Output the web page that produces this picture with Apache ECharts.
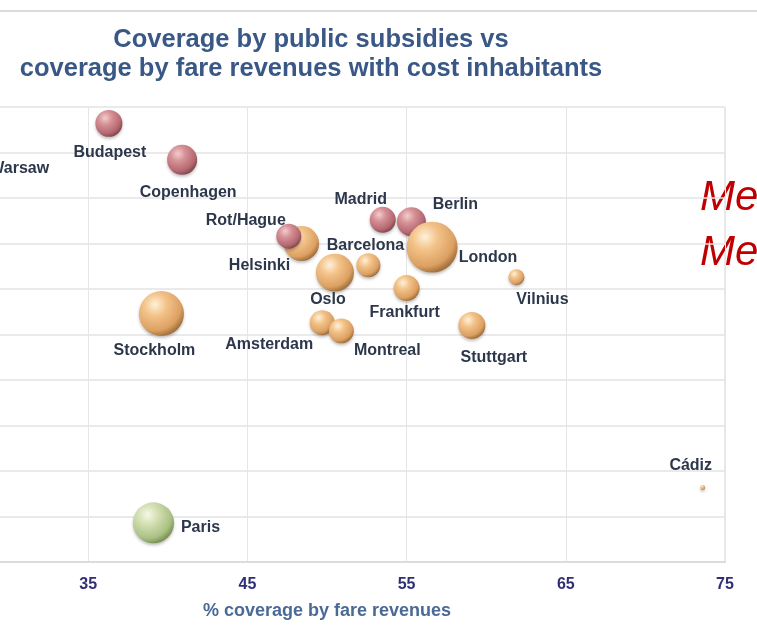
<!DOCTYPE html>
<html><head><meta charset="utf-8">
<script src="https://cdn.jsdelivr.net/npm/echarts@6/dist/echarts.min.js"></script>
<style>html,body{margin:0;padding:0;background:#fff}#c{width:757px;height:633px}</style>
</head><body><div id="c"></div><script>
// ---- data ----
const cities = ['Warsaw','Budapest','Copenhagen','Stockholm','Paris','Helsinki','Rot/Hague','Oslo','Amsterdam','Montreal','Barcelona','Madrid','Berlin','London','Frankfurt','Vilnius','Stuttgart','Cádiz'];
const fareCoverage    = [27.4, 36.3, 40.9, 39.6, 39.1, 48.4, 47.6, 50.5, 49.7, 50.9, 52.6, 53.5, 55.3, 56.6, 55.0, 61.9, 59.1, 73.6];
const subsidyCoverage = [53.2, 58.2, 54.2, 37.3, 14.3, 45.0, 45.8, 41.8, 36.3, 35.4, 42.6, 47.6, 47.4, 44.6, 40.1, 41.3, 36.0, 18.2];
const inhabitants     = [2.1, 2.1, 2.6, 5.85, 4.86, 3.54, 1.8, 4.17, 1.8, 1.8, 1.66, 1.95, 2.43, 7.5, 1.95, 0.74, 2.1, 0.07];
const groups          = ['A','A','A','B','C','B','A','B','B','B','B','A','A','B','B','B','B','B'];
const xTicks = [25, 35, 45, 55, 65, 75];
const titleLines = ['Coverage by public subsidies vs', 'coverage by fare revenues with cost inhabitants'];
const xAxisTitle = '% coverage by fare revenues';
const sideText = ['Me', 'Me'];

// ---- styles ----
const labelOffset = {
  'Warsaw':[52,0], 'Budapest':[1,29], 'Copenhagen':[6,33], 'Stockholm':[-7,37], 'Paris':[47,5],
  'Helsinki':[-42,22], 'Rot/Hague':[-43,-16], 'Oslo':[-7,27], 'Amsterdam':[-53,22], 'Montreal':[46,20],
  'Barcelona':[-3,-20], 'Madrid':[-22,-20], 'Berlin':[44,-17], 'London':[56,10], 'Frankfurt':[-2,25],
  'Vilnius':[26,22], 'Stuttgart':[22,32], 'Cádiz':[-12,-22]
};
function grad(stops){
  return new echarts.graphic.RadialGradient(0.36, 0.3, 0.72, stops.map((c,i)=>({offset:[0,0.35,0.8,1][i], color:c})));
}
const palette = {
  A: ['#f2cdcd','#d69197','#b56870','#864852'],
  B: ['#fff1d8','#f3c38a','#dca062','#a2703c'],
  C: ['#f5f9e6','#d3dfb2','#aac084','#7a9352']
};

const data = cities.map((c,i)=>({
  name: c,
  value: [fareCoverage[i], subsidyCoverage[i], inhabitants[i]],
  itemStyle: { color: grad(palette[groups[i]]) },
  label: { offset: labelOffset[c] }
}));

const chart = echarts.init(document.getElementById('c'), null, {renderer:'canvas'});
chart.setOption({
  animation: false,
  backgroundColor: '#ffffff',
  grid: { left: -71, right: 32, top: 107, bottom: 71, containLabel: false, outerBoundsMode: 'none' },
  xAxis: {
    type: 'value', min: xTicks[0], max: xTicks[xTicks.length-1], interval: 10,
    name: xAxisTitle, nameLocation: 'middle', nameGap: 40,
    nameTextStyle: { color: '#4a6a96', fontSize: 18, fontWeight: 'bold', fontFamily: 'Liberation Sans' },
    axisLine: { show: true, lineStyle: { color: '#dcdcdc', width: 2 } },
    axisTick: { show: false },
    axisLabel: { color: '#2f2f78', fontSize: 16, fontWeight: 'bold', fontFamily: 'Liberation Sans', margin: 15 },
    splitLine: { show: true, lineStyle: { color: '#e6e6e6', width: 1 } }
  },
  yAxis: {
    type: 'value', min: 10, max: 60, interval: 5,
    axisLine: { show: false }, axisTick: { show: false }, axisLabel: { show: false },
    splitLine: { show: true, lineStyle: { color: '#e3e3e3', width: 1.5 } }
  },
  graphic: [
    { type: 'line', shape: { x1: 0, y1: 11, x2: 757, y2: 11 }, style: { stroke: '#dadada', lineWidth: 2 } },
    { type: 'line', shape: { x1: 725, y1: 107, x2: 725, y2: 562 }, style: { stroke: '#e3e3e3', lineWidth: 1.5 } },
    { type: 'text', x: 311, y: 40, style: { text: titleLines[0], fill: '#3a5886', font: 'bold 25.5px "Liberation Sans"', textAlign: 'center', textVerticalAlign: 'middle' } },
    { type: 'text', x: 311, y: 69, style: { text: titleLines[1], fill: '#3a5886', font: 'bold 25.5px "Liberation Sans"', textAlign: 'center', textVerticalAlign: 'middle' } },
    { type: 'text', x: 700, y: 198, style: { text: sideText[0], fill: '#c00000', font: 'italic 42px "Liberation Sans"', textAlign: 'left', textVerticalAlign: 'middle' } },
    { type: 'text', x: 700, y: 253, style: { text: sideText[1], fill: '#c00000', font: 'italic 42px "Liberation Sans"', textAlign: 'left', textVerticalAlign: 'middle' } }
  ],
  series: [{
    type: 'scatter',
    data: data,
    symbol: 'circle',
    symbolSize: v => 18.6 * Math.sqrt(v[2]),
    itemStyle: { opacity: 1, shadowBlur: 3, shadowColor: 'rgba(0,0,0,0.25)', shadowOffsetY: 2 },
    label: {
      show: true, position: 'inside', formatter: p => p.name,
      color: '#2c374b', fontSize: 16, fontWeight: 'bold', fontFamily: 'Liberation Sans',
      textBorderWidth: 0, textBorderColor: 'transparent', textShadowBlur: 0
    },
    emphasis: { disabled: true }
  }]
});
</script></body></html>
